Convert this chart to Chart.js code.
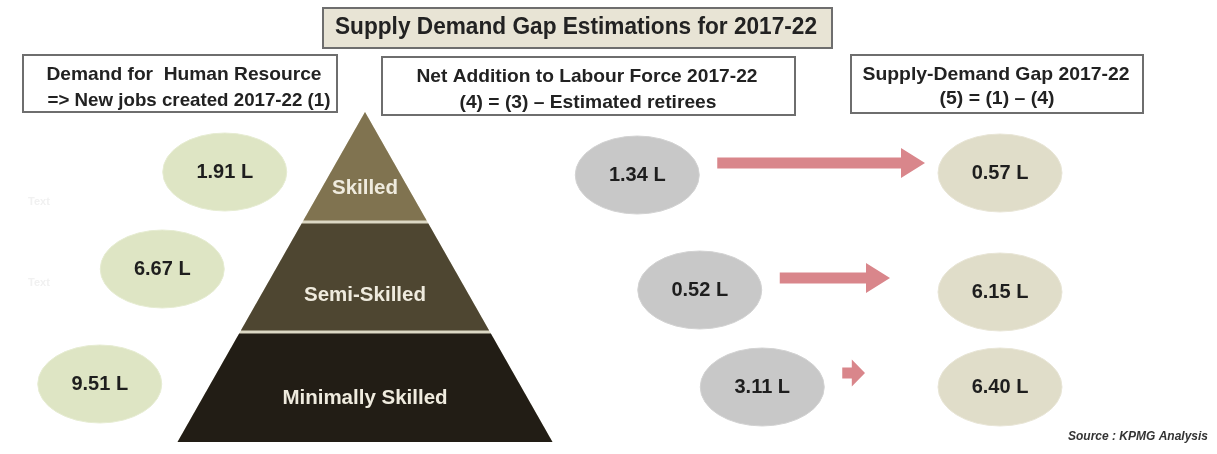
<!DOCTYPE html>
<html>
<head>
<meta charset="utf-8">
<script src="https://cdn.jsdelivr.net/npm/chart.js@4"></script>
<style>
  html, body { margin: 0; padding: 0; background: #ffffff; overflow: hidden; }
  canvas { display: block; }
</style>
</head>
<body>
<canvas id="chart" width="1217" height="454"></canvas>
<script>
// ---------------- data ----------------
const tiers = ['Skilled', 'Semi-Skilled', 'Minimally Skilled'];
const demand = [1.91, 6.67, 9.51];        // (1) new jobs created 2017-22 (lakh)
const netAddition = [1.34, 0.52, 3.11];   // (4) net addition to labour force 2017-22
const supplyGap = [0.57, 6.15, 6.40];     // (5) = (1) - (4)
const unitSuffix = ' L';
const chartTitle = 'Supply Demand Gap Estimations for 2017-22';
const demandHeader = ['Demand for  Human Resource', '=> New jobs created 2017-22 (1)'];
const netHeader = ['Net Addition to Labour Force 2017-22', '(4) = (3) \u2013 Estimated retirees'];
const gapHeader = ['Supply-Demand Gap 2017-22', '(5) = (1) \u2013 (4)'];
const sourceNote = 'Source : KPMG Analysis';
const ghostLabels = ['Text', 'Text'];

// ---------------- layout & style ----------------
const W = 1217, H = 454;
const FONT = '"Liberation Sans", Arial, Helvetica, sans-serif';
const PYR = { apexX: 365, baseHalf: 187.5, gap: 3,
  colors: ['#807350', '#4e4631', '#221d15'], sepColor: '#dcd8c4',
  labelColor: '#efebde', labelSize: 20.5, labelDy: [21, 18, 11] };
const COL = { demandDx: -109, netDx: 241, gapX: 1000 };
const NUDGE = { demand: [5, -8, -3], net: [8, 13, 0], gap: [6, 15, 0] };
const ELL = { rx: 62, ry: 39, textSize: 20, textColor: '#1e1e1e' };
const ARROW = { startDx: 80, tips: [925, 890, 865], dy: [-12, -12, -14],
  shaft: 11, headHalf: 15, head: 24, color: '#d9868b' };
const BOXES = [
  { x0: 323, y0: 8, x1: 832, y1: 48, fill: '#e8e4d5',
    lines: [{ t: chartTitle, cx: 576, cy: 28, size: 23, w: 482 }] },
  { x0: 23, y0: 55, x1: 337, y1: 112, fill: '#ffffff',
    lines: [{ t: demandHeader[0], cx: 184, cy: 75, size: 18.5, w: 275 },
            { t: demandHeader[1], cx: 189, cy: 101, size: 18.5, w: 283 }] },
  { x0: 382, y0: 57, x1: 795, y1: 115, fill: '#ffffff',
    lines: [{ t: netHeader[0], cx: 587, cy: 77, size: 18.5, w: 341 },
            { t: netHeader[1], cx: 588, cy: 103, size: 18.5, w: 257 }] },
  { x0: 851, y0: 55, x1: 1143, y1: 113, fill: '#ffffff',
    lines: [{ t: gapHeader[0], cx: 996, cy: 75, size: 18.5, w: 267 },
            { t: gapHeader[1], cx: 997, cy: 99, size: 18.5, w: 115 }] }
];

const n = tiers.length;
const halfAt = v => PYR.baseHalf * (v + 0.5) / n;   // pyramid half-width at tier value v

const demandPts = demand.map((v, i) => ({ x: PYR.apexX - halfAt(i) + COL.demandDx, y: i }));
const netPts = netAddition.map((v, i) => ({ x: PYR.apexX + halfAt(i) + COL.netDx, y: i }));
const gapPts = supplyGap.map((v, i) => ({ x: COL.gapX, y: i }));

function drawText(ctx, text, cx, cy, size, color, targetW, style) {
  ctx.save();
  ctx.font = (style || 'bold') + ' ' + size + 'px ' + FONT;
  const w = ctx.measureText(text).width;
  const sx = targetW ? targetW / w : 1;
  ctx.translate(cx, cy);
  ctx.scale(sx, 1);
  ctx.textAlign = 'center';
  ctx.textBaseline = 'middle';
  ctx.fillStyle = color;
  ctx.fillText(text, 0, 0);
  ctx.restore();
}

const infographic = {
  id: 'infographic',
  beforeDatasetsDraw(chart) {
    const ctx = chart.ctx, xs = chart.scales.x, ys = chart.scales.y;
    const apex = xs.getPixelForValue(PYR.apexX);
    const top = ys.getPixelForValue(-0.5), base = ys.getPixelForValue(n - 0.5);
    const halfBase = xs.getPixelForValue(PYR.apexX + PYR.baseHalf) - apex;
    const hp = y => halfBase * (y - top) / (base - top);
    ctx.save();
    ctx.beginPath();
    ctx.moveTo(apex, top); ctx.lineTo(apex + halfBase, base); ctx.lineTo(apex - halfBase, base);
    ctx.closePath(); ctx.fillStyle = PYR.sepColor; ctx.fill();
    tiers.forEach((name, i) => {
      let t = ys.getPixelForValue(i - 0.5), b = ys.getPixelForValue(i + 0.5);
      if (i > 0) t += PYR.gap / 2;
      if (i < n - 1) b -= PYR.gap / 2;
      ctx.beginPath();
      ctx.moveTo(apex - hp(t), t); ctx.lineTo(apex + hp(t), t);
      ctx.lineTo(apex + hp(b), b); ctx.lineTo(apex - hp(b), b);
      ctx.closePath(); ctx.fillStyle = PYR.colors[i]; ctx.fill();
      drawText(ctx, name, apex, ys.getPixelForValue(i) + PYR.labelDy[i], PYR.labelSize, PYR.labelColor);
    });
    ctx.restore();
  },
  afterDatasetsDraw(chart) {
    const ctx = chart.ctx, xs = chart.scales.x;
    ctx.save();
    BOXES.forEach(bx => {
      ctx.fillStyle = bx.fill;
      ctx.fillRect(bx.x0, bx.y0, bx.x1 - bx.x0, bx.y1 - bx.y0);
      ctx.lineWidth = 2; ctx.strokeStyle = '#6e6e6e';
      ctx.strokeRect(bx.x0, bx.y0, bx.x1 - bx.x0, bx.y1 - bx.y0);
      bx.lines.forEach(l => drawText(ctx, l.t, l.cx, l.cy, l.size, '#222222', l.w));
    });
    const netMeta = chart.getDatasetMeta(1);
    netMeta.data.forEach((el, j) => {
      const y = el.y + NUDGE.net[j] + ARROW.dy[j];
      const x0 = el.x + ARROW.startDx, x1 = xs.getPixelForValue(ARROW.tips[j]);
      const head = Math.min(ARROW.head, 0.58 * (x1 - x0));
      const hh = j === 2 ? ARROW.headHalf - 1.5 : ARROW.headHalf;
      ctx.beginPath();
      ctx.moveTo(x0, y - ARROW.shaft / 2);
      ctx.lineTo(x1 - head, y - ARROW.shaft / 2);
      ctx.lineTo(x1 - head, y - hh);
      ctx.lineTo(x1, y);
      ctx.lineTo(x1 - head, y + hh);
      ctx.lineTo(x1 - head, y + ARROW.shaft / 2);
      ctx.lineTo(x0, y + ARROW.shaft / 2);
      ctx.closePath();
      ctx.fillStyle = ARROW.color; ctx.fill();
    });
    chart.data.datasets.forEach((ds, k) => {
      const meta = chart.getDatasetMeta(k);
      meta.data.forEach((el, j) => {
        const cx = el.x, cy = el.y + ds.nudge[j];
        ctx.beginPath();
        ctx.ellipse(cx, cy, ELL.rx, ELL.ry, 0, 0, Math.PI * 2);
        ctx.fillStyle = ds.ellipseColor; ctx.fill();
        ctx.lineWidth = 1; ctx.strokeStyle = ds.edgeColor; ctx.stroke();
        drawText(ctx, ds.values[j].toFixed(2) + unitSuffix, cx, cy, ELL.textSize, ELL.textColor);
      });
    });
    drawText(ctx, ghostLabels[0], 39, 202, 11, '#f1f1f1');
    drawText(ctx, ghostLabels[1], 39, 283, 11, '#f1f1f1');
    ctx.font = 'italic bold 12px ' + FONT;
    ctx.textAlign = 'right'; ctx.textBaseline = 'middle'; ctx.fillStyle = '#333333';
    ctx.fillText(sourceNote, 1208, 437);
    ctx.restore();
  }
};

new Chart(document.getElementById('chart').getContext('2d'), {
  type: 'scatter',
  data: {
    datasets: [
      { label: 'Demand (1)', data: demandPts, values: demand, nudge: NUDGE.demand,
        ellipseColor: '#dee5c4', edgeColor: '#e6ecd2', pointRadius: 0 },
      { label: 'Net addition (4)', data: netPts, values: netAddition, nudge: NUDGE.net,
        ellipseColor: '#c8c8c8', edgeColor: '#d2d2d2', pointRadius: 0 },
      { label: 'Supply-demand gap (5)', data: gapPts, values: supplyGap, nudge: NUDGE.gap,
        ellipseColor: '#e0ddc9', edgeColor: '#e8e5d6', pointRadius: 0 }
    ]
  },
  options: {
    responsive: false,
    animation: false,
    devicePixelRatio: 1,
    events: [],
    layout: { padding: { top: 112, bottom: 12, left: 0, right: 0 } },
    scales: {
      x: { type: 'linear', min: 0, max: W, display: false },
      y: { type: 'linear', min: -0.5, max: n - 0.5, reverse: true, display: false }
    },
    plugins: { legend: { display: false }, tooltip: { enabled: false }, title: { display: false } }
  },
  plugins: [infographic]
});
</script>
</body>
</html>
